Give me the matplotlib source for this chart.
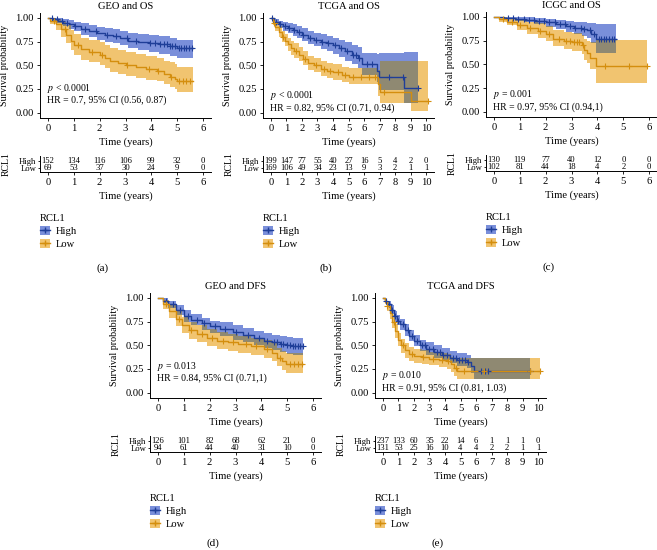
import numpy as np
import matplotlib
matplotlib.use("Agg")
import matplotlib.pyplot as plt
from matplotlib.patches import Patch
from matplotlib.lines import Line2D

plt.rcParams['font.family'] = ['Liberation Serif', 'DejaVu Serif']
plt.rcParams['mathtext.fontset'] = 'stix'

W, H = 657, 550

HIGH_LINE = "#1F3E98"
HIGH_FILL = "#7A8FDA"
LOW_LINE = "#D48E0E"
LOW_FILL = "#F1C470"
OVERLAP = "#8F8972"

# ---- (a) GEO and OS ----
HIGH_A_T = [0, 0.2, 0.4, 0.6, 0.8, 1.0, 1.3, 1.6, 1.9, 2.2, 2.5, 2.8, 3.1, 3.5, 3.9, 4.3, 4.7, 5.0, 5.6]
HIGH_A_S = [1.0, 0.99, 0.97, 0.95, 0.93, 0.91, 0.88, 0.86, 0.84, 0.82, 0.81, 0.79, 0.76, 0.75, 0.73, 0.72, 0.70, 0.68, 0.68]
HIGH_A_LO = [1.0, 0.97, 0.94, 0.91, 0.88, 0.86, 0.82, 0.80, 0.77, 0.75, 0.73, 0.71, 0.68, 0.66, 0.64, 0.62, 0.60, 0.58, 0.58]
HIGH_A_HI = [1.0, 1.0, 1.0, 0.99, 0.98, 0.96, 0.94, 0.92, 0.90, 0.89, 0.88, 0.86, 0.84, 0.83, 0.82, 0.81, 0.79, 0.77, 0.77]
LOW_A_T = [0, 0.1, 0.3, 0.5, 0.7, 0.9, 1.0, 1.3, 1.6, 2.0, 2.2, 2.4, 2.7, 3.0, 3.4, 3.8, 4.2, 4.5, 4.7, 4.9, 5.0, 5.6]
LOW_A_S = [1.0, 0.97, 0.93, 0.88, 0.82, 0.76, 0.71, 0.67, 0.64, 0.61, 0.58, 0.54, 0.52, 0.50, 0.48, 0.46, 0.44, 0.41, 0.38, 0.36, 0.33, 0.33]
LOW_A_LO = [1.0, 0.93, 0.87, 0.80, 0.73, 0.66, 0.61, 0.56, 0.53, 0.50, 0.47, 0.43, 0.41, 0.39, 0.37, 0.35, 0.33, 0.30, 0.27, 0.25, 0.22, 0.22]
LOW_A_HI = [1.0, 1.0, 0.99, 0.96, 0.92, 0.87, 0.83, 0.79, 0.77, 0.74, 0.71, 0.68, 0.66, 0.64, 0.62, 0.60, 0.58, 0.55, 0.53, 0.51, 0.48, 0.48]
CENS_HIGH_A = [0.15, 0.35, 0.55, 0.75, 1.05, 1.45, 1.85, 2.3, 2.65, 3.05, 3.4, 3.95, 4.15, 4.35, 4.5, 4.6,
               4.7, 4.8, 4.9, 5.05, 5.15, 5.25, 5.35, 5.45, 5.55]
CENS_LOW_A = [0.25, 0.65, 1.15, 1.7, 2.1, 3.05, 3.9, 4.25, 4.75, 5.05, 5.2, 5.35, 5.5]
RISK_HIGH_A = [152, 134, 116, 106, 99, 32, 0]
RISK_LOW_A = [69, 53, 37, 30, 24, 9, 0]

# ---- (b) TCGA and OS ----
HIGH_B_T = [0, 0.2, 0.5, 0.8, 1.1, 1.4, 1.7, 2.0, 2.4, 2.8, 3.2, 3.6, 4.0, 4.4, 4.8, 5.2, 5.6, 5.9, 6.85, 6.95, 8.6, 9.5]
HIGH_B_S = [1.0, 0.96, 0.93, 0.91, 0.89, 0.87, 0.85, 0.82, 0.79, 0.77, 0.75, 0.73, 0.71, 0.68, 0.65, 0.61, 0.58, 0.51, 0.44, 0.38, 0.26, 0.26]
HIGH_B_LO = [1.0, 0.93, 0.89, 0.86, 0.84, 0.81, 0.79, 0.76, 0.72, 0.70, 0.67, 0.65, 0.62, 0.59, 0.55, 0.51, 0.47, 0.40, 0.32, 0.24, 0.10, 0.10]
HIGH_B_HI = [1.0, 0.99, 0.97, 0.96, 0.94, 0.93, 0.91, 0.89, 0.86, 0.84, 0.83, 0.81, 0.79, 0.77, 0.74, 0.71, 0.69, 0.63, 0.62, 0.63, 0.64, 0.64]
LOW_B_T = [0, 0.15, 0.3, 0.5, 0.7, 0.9, 1.1, 1.3, 1.5, 1.8, 2.1, 2.4, 2.8, 3.2, 3.6, 4.0, 4.6, 5.0, 6.9, 7.0, 9.0, 10.1]
LOW_B_S = [1.0, 0.95, 0.90, 0.85, 0.80, 0.76, 0.72, 0.68, 0.65, 0.61, 0.57, 0.52, 0.50, 0.46, 0.44, 0.43, 0.40, 0.38, 0.30, 0.22, 0.12, 0.12]
LOW_B_LO = [1.0, 0.92, 0.86, 0.80, 0.74, 0.70, 0.65, 0.61, 0.58, 0.54, 0.50, 0.45, 0.43, 0.39, 0.37, 0.35, 0.32, 0.30, 0.18, 0.10, 0.02, 0.02]
LOW_B_HI = [1.0, 0.99, 0.95, 0.91, 0.86, 0.83, 0.79, 0.76, 0.73, 0.69, 0.65, 0.60, 0.58, 0.54, 0.52, 0.51, 0.48, 0.47, 0.45, 0.55, 0.55, 0.55]
CENS_HIGH_B = [0.1, 0.35, 0.6, 0.9, 1.2, 1.5, 1.8, 2.1, 2.5, 2.9, 3.3, 3.7, 4.1, 4.5, 4.9, 5.3, 5.5, 5.7,
               6.2, 6.5, 7.6, 8.5, 9.5]
CENS_LOW_B = [0.2, 0.8, 1.6, 2.2, 2.9, 3.4, 3.8, 4.3, 4.8, 5.3, 5.8, 6.3, 6.7, 7.3, 10.1]
RISK_HIGH_B = [199, 147, 77, 55, 40, 27, 16, 5, 4, 2, 0]
RISK_LOW_B = [169, 106, 49, 34, 23, 13, 9, 3, 2, 1, 1]

# ---- (c) ICGC and OS ----
HIGH_C_T = [0, 0.4, 0.8, 1.2, 1.6, 2.0, 2.4, 2.8, 3.1, 3.4, 3.6, 3.75, 3.95, 4.7]
HIGH_C_S = [1.0, 0.99, 0.98, 0.97, 0.96, 0.94, 0.92, 0.90, 0.88, 0.87, 0.86, 0.82, 0.77, 0.77]
HIGH_C_LO = [1.0, 0.98, 0.96, 0.94, 0.92, 0.89, 0.87, 0.84, 0.82, 0.80, 0.78, 0.72, 0.62, 0.62]
HIGH_C_HI = [1.0, 1.0, 1.0, 1.0, 0.99, 0.98, 0.97, 0.96, 0.95, 0.94, 0.93, 0.93, 0.92, 0.92]
LOW_C_T = [0, 0.2, 0.5, 0.9, 1.3, 1.7, 2.0, 2.3, 2.7, 3.0, 3.4, 3.5, 3.6, 3.7, 3.95, 5.9]
LOW_C_S = [1.0, 0.98, 0.95, 0.91, 0.88, 0.85, 0.82, 0.77, 0.74, 0.73, 0.70, 0.65, 0.62, 0.57, 0.48, 0.48]
LOW_C_LO = [1.0, 0.95, 0.91, 0.86, 0.82, 0.78, 0.75, 0.69, 0.66, 0.64, 0.61, 0.55, 0.51, 0.45, 0.30, 0.30]
LOW_C_HI = [1.0, 1.0, 0.99, 0.97, 0.95, 0.93, 0.90, 0.86, 0.84, 0.83, 0.81, 0.77, 0.75, 0.73, 0.76, 0.76]
CENS_HIGH_C = [0.55, 0.75, 0.95, 1.15, 1.35, 1.55, 1.75, 1.95, 2.15, 2.35, 2.55, 2.75, 2.95, 3.15, 3.35,
               3.5, 3.7, 3.85, 4.05, 4.15, 4.25, 4.35, 4.45, 4.55, 4.65]
CENS_LOW_C = [0.35, 0.7, 1.0, 1.4, 1.8, 2.15, 2.5, 2.8, 2.95, 3.1, 3.2, 3.3, 3.45, 4.3, 5.2, 5.9]
RISK_HIGH_C = [130, 119, 77, 40, 12, 0, 0]
RISK_LOW_C = [102, 81, 44, 18, 4, 2, 0]

# ---- (d) GEO and DFS ----
HIGH_D_T = [0, 0.2, 0.4, 0.7, 1.0, 1.3, 1.7, 2.0, 2.4, 2.9, 3.3, 3.7, 4.1, 4.4, 4.7, 5.0, 5.2, 5.6]
HIGH_D_S = [1.0, 0.97, 0.93, 0.87, 0.81, 0.77, 0.73, 0.70, 0.67, 0.64, 0.61, 0.58, 0.55, 0.53, 0.51, 0.50, 0.49, 0.49]
HIGH_D_LO = [1.0, 0.94, 0.89, 0.82, 0.75, 0.71, 0.66, 0.63, 0.60, 0.56, 0.53, 0.50, 0.47, 0.45, 0.43, 0.41, 0.40, 0.40]
HIGH_D_HI = [1.0, 1.0, 0.97, 0.92, 0.87, 0.83, 0.79, 0.76, 0.74, 0.71, 0.68, 0.65, 0.63, 0.61, 0.60, 0.59, 0.58, 0.58]
LOW_D_T = [0, 0.2, 0.45, 0.7, 0.95, 1.2, 1.5, 1.9, 2.3, 2.7, 3.1, 3.6, 4.1, 4.4, 4.6, 4.8, 4.95, 5.6]
LOW_D_S = [1.0, 0.93, 0.86, 0.78, 0.71, 0.66, 0.62, 0.58, 0.55, 0.53, 0.51, 0.49, 0.46, 0.42, 0.37, 0.33, 0.30, 0.30]
LOW_D_LO = [1.0, 0.88, 0.79, 0.70, 0.63, 0.57, 0.53, 0.49, 0.46, 0.44, 0.42, 0.40, 0.37, 0.33, 0.28, 0.24, 0.21, 0.21]
LOW_D_HI = [1.0, 0.98, 0.93, 0.86, 0.80, 0.75, 0.71, 0.67, 0.64, 0.62, 0.60, 0.58, 0.56, 0.52, 0.47, 0.44, 0.42, 0.42]
CENS_HIGH_D = [0.3, 0.6, 0.85, 1.15, 1.5, 1.8, 2.2, 2.6, 3.0, 3.5, 3.9, 4.2, 4.5, 4.6, 4.75, 4.85, 5.0,
               5.1, 5.2, 5.3, 5.4, 5.5, 5.6]
CENS_LOW_D = [0.3, 0.8, 1.3, 1.7, 2.1, 2.5, 2.9, 3.4, 3.8, 4.2, 4.7, 5.1, 5.25, 5.4, 5.55]
RISK_HIGH_D = [126, 101, 82, 68, 62, 21, 0]
RISK_LOW_D = [94, 61, 44, 40, 31, 10, 0]

# ---- (e) TCGA and DFS ----
HIGH_E_T = [0, 0.15, 0.3, 0.5, 0.7, 0.9, 1.1, 1.4, 1.7, 2.0, 2.4, 2.8, 3.3, 3.8, 4.3, 4.8, 5.4, 5.7, 5.9, 9.5]
HIGH_E_S = [1.0, 0.97, 0.93, 0.87, 0.81, 0.76, 0.72, 0.66, 0.60, 0.55, 0.50, 0.46, 0.43, 0.40, 0.37, 0.34, 0.32, 0.28, 0.23, 0.23]
HIGH_E_LO = [1.0, 0.95, 0.90, 0.83, 0.76, 0.71, 0.66, 0.60, 0.54, 0.49, 0.44, 0.40, 0.37, 0.34, 0.31, 0.28, 0.26, 0.21, 0.14, 0.14]
HIGH_E_HI = [1.0, 0.99, 0.97, 0.92, 0.86, 0.82, 0.78, 0.72, 0.66, 0.61, 0.56, 0.53, 0.50, 0.47, 0.44, 0.42, 0.40, 0.37, 0.37, 0.37]
LOW_E_T = [0, 0.15, 0.3, 0.45, 0.6, 0.8, 1.0, 1.2, 1.4, 1.7, 2.0, 2.5, 3.0, 3.6, 4.1, 4.4, 4.6, 4.8, 10.1]
LOW_E_S = [1.0, 0.96, 0.91, 0.84, 0.75, 0.65, 0.56, 0.50, 0.45, 0.41, 0.39, 0.38, 0.36, 0.35, 0.33, 0.30, 0.26, 0.23, 0.23]
LOW_E_LO = [1.0, 0.93, 0.86, 0.78, 0.68, 0.58, 0.49, 0.42, 0.37, 0.33, 0.31, 0.30, 0.29, 0.27, 0.25, 0.22, 0.18, 0.14, 0.14]
LOW_E_HI = [1.0, 0.99, 0.96, 0.90, 0.82, 0.72, 0.63, 0.57, 0.52, 0.48, 0.46, 0.45, 0.43, 0.42, 0.41, 0.38, 0.36, 0.37, 0.37]
CENS_HIGH_E = [0.2, 0.4, 0.6, 0.8, 1.0, 1.3, 1.6, 1.9, 2.2, 2.5, 2.7, 3.0, 3.2, 3.5, 3.7, 3.9, 4.1, 4.5,
               4.7, 4.9, 5.1, 5.3, 5.5, 6.3, 6.6, 6.8, 9.5]
CENS_LOW_E = [0.3, 0.7, 1.3, 1.9, 2.6, 3.2, 3.8, 4.2, 4.7, 5.2, 6.5, 9.5, 10.1]
RISK_HIGH_E = [237, 133, 60, 35, 22, 14, 6, 1, 1, 1, 0]
RISK_LOW_E = [131, 53, 25, 16, 10, 4, 4, 2, 2, 1, 1]

panels = [
    dict(title="GEO and OS", tag="(a)", xmax=6, left=40, top=13, tag_dy=255,
         high=(HIGH_A_T, HIGH_A_S, HIGH_A_LO, HIGH_A_HI, CENS_HIGH_A),
         low=(LOW_A_T, LOW_A_S, LOW_A_LO, LOW_A_HI, CENS_LOW_A),
         risk=(RISK_HIGH_A, RISK_LOW_A),
         p="$p$ < 0.0001", hr="HR = 0.7, 95% CI (0.56, 0.87)", ty=(0.26, 0.13)),
    dict(title="TCGA and OS", tag="(b)", xmax=10, left=263, top=13, tag_dy=255,
         high=(HIGH_B_T, HIGH_B_S, HIGH_B_LO, HIGH_B_HI, CENS_HIGH_B),
         low=(LOW_B_T, LOW_B_S, LOW_B_LO, LOW_B_HI, CENS_LOW_B),
         risk=(RISK_HIGH_B, RISK_LOW_B),
         p="$p$ < 0.0001", hr="HR = 0.82, 95% CI (0.71, 0.94)", ty=(0.18, 0.05)),
    dict(title="ICGC and OS", tag="(c)", xmax=6, left=486, top=12, tag_dy=255,
         high=(HIGH_C_T, HIGH_C_S, HIGH_C_LO, HIGH_C_HI, CENS_HIGH_C),
         low=(LOW_C_T, LOW_C_S, LOW_C_LO, LOW_C_HI, CENS_LOW_C),
         risk=(RISK_HIGH_C, RISK_LOW_C),
         p="$p$ = 0.001", hr="HR = 0.97, 95% CI (0.94,1)", ty=(0.18, 0.05)),
    dict(title="GEO and DFS", tag="(d)", xmax=6, left=150, top=293, tag_dy=250,
         high=(HIGH_D_T, HIGH_D_S, HIGH_D_LO, HIGH_D_HI, CENS_HIGH_D),
         low=(LOW_D_T, LOW_D_S, LOW_D_LO, LOW_D_HI, CENS_LOW_D),
         risk=(RISK_HIGH_D, RISK_LOW_D),
         p="$p$ = 0.013", hr="HR = 0.84, 95% CI (0.71,1)", ty=(0.28, 0.15)),
    dict(title="TCGA and DFS", tag="(e)", xmax=10, left=375, top=293, tag_dy=250,
         high=(HIGH_E_T, HIGH_E_S, HIGH_E_LO, HIGH_E_HI, CENS_HIGH_E),
         low=(LOW_E_T, LOW_E_S, LOW_E_LO, LOW_E_HI, CENS_LOW_E),
         risk=(RISK_HIGH_E, RISK_LOW_E),
         p="$p$ = 0.010", hr="HR = 0.91, 95% CI (0.81, 1.03)", ty=(0.18, 0.05)),
]

AX_W, AX_H = 171, 104.5
FS = 7.6


def frect(left, top, w, h):
    return [left / W, 1 - (top + h) / H, w / W, h / H]


def step_at(t, v, g):
    idx = np.searchsorted(np.asarray(t), g, side='right') - 1
    return np.asarray(v)[np.clip(idx, 0, None)]


def style_axis(ax):
    for s in ['top', 'right']:
        ax.spines[s].set_visible(False)
    for s in ['left', 'bottom']:
        ax.spines[s].set_linewidth(0.7)
    ax.tick_params(direction='out', length=2.5, width=0.6, labelsize=FS, pad=2)


fig = plt.figure(figsize=(W / 100, H / 100), dpi=100)

for pn in panels:
    xmax = pn['xmax']
    pad = 0.05 * xmax
    ax = fig.add_axes(frect(pn['left'], pn['top'], AX_W, AX_H))
    style_axis(ax)
    ht, hs, hlo, hhi, hc = pn['high']
    lt, ls, llo, lhi, lc = pn['low']

    ax.fill_between(lt, llo, lhi, step='post', color=LOW_FILL, lw=0)
    ax.fill_between(ht, hlo, hhi, step='post', color=HIGH_FILL, lw=0)
    # where both confidence bands overlap
    tend = min(ht[-1], lt[-1])
    grid = np.unique(np.concatenate([ht, lt]))
    grid = np.append(grid[grid < tend], tend)
    olo = np.maximum(step_at(ht, hlo, grid), step_at(lt, llo, grid))
    ohi = np.minimum(step_at(ht, hhi, grid), step_at(lt, lhi, grid))
    ohi = np.maximum(ohi, olo)
    ax.fill_between(grid, olo, ohi, step='post', color=OVERLAP, lw=0)

    ax.step(ht, hs, where='post', color=HIGH_LINE, lw=1.0)
    ax.step(lt, ls, where='post', color=LOW_LINE, lw=1.0)
    ax.plot(hc, step_at(ht, hs, hc), '+', color=HIGH_LINE, ms=4, mew=0.8)
    ax.plot(lc, step_at(lt, ls, lc), '+', color=LOW_LINE, ms=4, mew=0.8)

    ax.set_xlim(-pad, xmax + pad)
    ax.set_ylim(-0.05, 1.05)
    ax.set_xticks(range(0, xmax + 1))
    ax.set_yticks([0, 0.25, 0.5, 0.75, 1.0])
    ax.set_yticklabels(['0.00', '0.25', '0.50', '0.75', '1.00'])
    ax.set_title(pn['title'], fontsize=FS, pad=3)
    ax.set_xlabel("Time (years)", fontsize=FS, labelpad=3)
    ax.set_ylabel("Survival probability", fontsize=7.2)
    ax.yaxis.set_label_coords(-0.18, 0.5)
    ax.text(0.04, pn['ty'][0], pn['p'], transform=ax.get_yaxis_transform(), fontsize=7, va='center')
    ax.text(0.04, pn['ty'][1], pn['hr'], transform=ax.get_yaxis_transform(), fontsize=7, va='center')

    # risk table
    axr = fig.add_axes(frect(pn['left'], pn['top'] + 143, AX_W, 16))
    style_axis(axr)
    axr.set_xlim(-pad, xmax + pad)
    axr.set_ylim(0, 1)
    axr.set_xticks(range(0, xmax + 1))
    axr.set_yticks([0.66, 0.24])
    axr.set_yticklabels(['High', 'Low'], fontsize=6.2)
    axr.tick_params(axis='y', length=1.5, pad=1)
    for i, (nh, nl) in enumerate(zip(*pn['risk'])):
        axr.text(i, 0.66, str(nh), ha='center', va='center', fontsize=6.2)
        axr.text(i, 0.24, str(nl), ha='center', va='center', fontsize=6.2)
    axr.set_xlabel("Time (years)", fontsize=FS, labelpad=3)
    axr.set_ylabel("RCL1", fontsize=7)
    axr.yaxis.set_label_coords(-0.17, 0.5)

    handles = [(Patch(facecolor=HIGH_FILL, edgecolor='none'),
                Line2D([], [], color=HIGH_LINE, marker='+', lw=1.0, ms=4)),
               (Patch(facecolor=LOW_FILL, edgecolor='none'),
                Line2D([], [], color=LOW_LINE, marker='+', lw=1.0, ms=4))]
    fig.legend(handles, ['High', 'Low'], title='RCL1', loc='upper left',
               bbox_to_anchor=(pn['left'] / W, 1 - (pn['top'] + 201) / H),
               frameon=False, fontsize=FS, title_fontsize=FS, alignment='left',
               handlelength=0.9, handleheight=0.9, handletextpad=0.6,
               labelspacing=0.3, borderpad=0, borderaxespad=0)

    fig.text((pn['left'] + AX_W / 2 - 23) / W, 1 - (pn['top'] + pn['tag_dy']) / H, pn['tag'],
             ha='center', va='center', fontsize=8)

fig.savefig("out.png", dpi=100)
